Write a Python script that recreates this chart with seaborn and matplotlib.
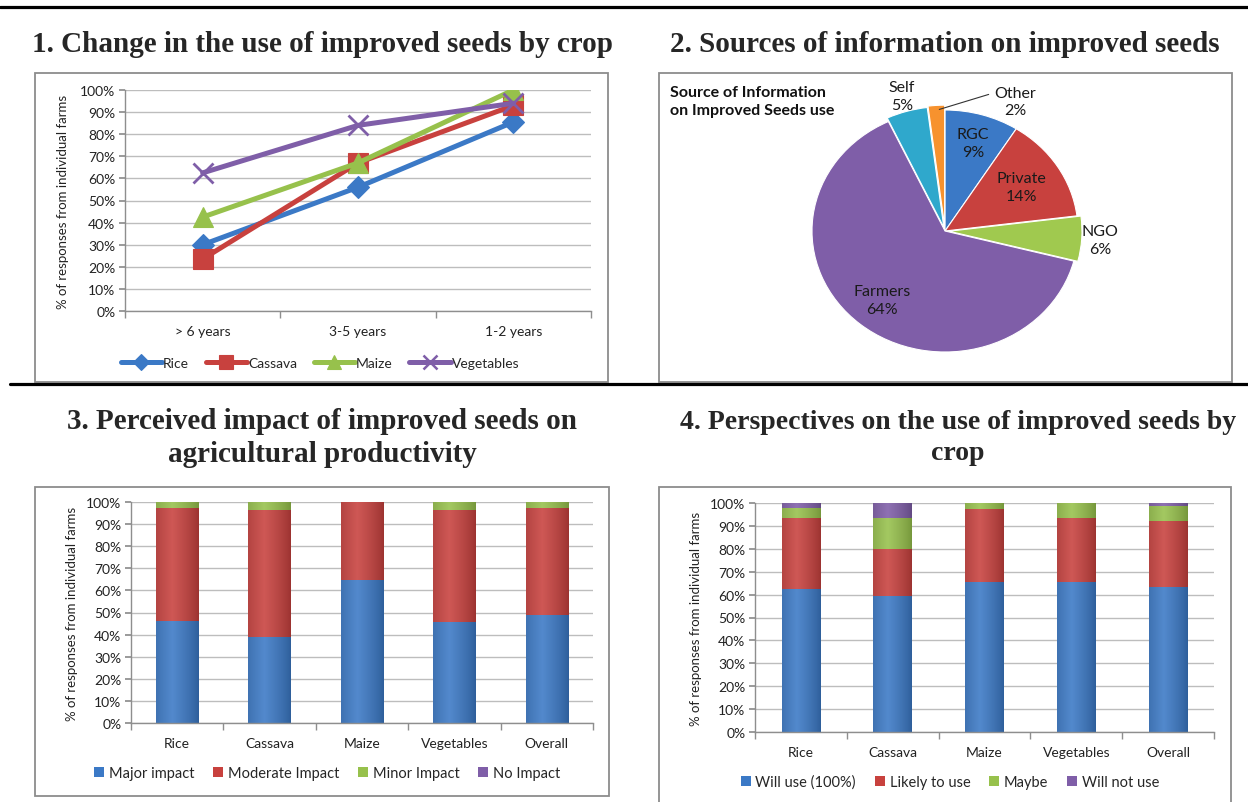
import numpy as np
import pandas as pd
import matplotlib
matplotlib.use("Agg")
import matplotlib.pyplot as plt
import seaborn as sns
from matplotlib.patches import Rectangle, Patch
from matplotlib.lines import Line2D
from matplotlib.colors import to_rgb

# ---------------- data ----------------
periods = ["> 6 years", "3-5 years", "1-2 years"]
rice_trend = [30, 56, 85.5]
cassava_trend = [23.5, 67, 93]
maize_trend = [42.5, 67, 100]
vegetables_trend = [62.5, 84, 94]

sources = ["RGC", "Private", "NGO", "Farmers", "Self", "Other"]
source_share = [9, 14, 6, 64, 5, 2]

crops = ["Rice", "Cassava", "Maize", "Vegetables", "Overall"]
impact_levels = ["Major impact", "Moderate Impact", "Minor Impact", "No Impact"]
major_impact = [46, 39, 64.5, 45.5, 49]
moderate_impact = [51.5, 57.5, 35.5, 51, 48.5]
minor_impact = [2.5, 3.5, 0, 3.5, 2.5]
no_impact = [0, 0, 0, 0, 0]

use_levels = ["Will use (100%)", "Likely to use", "Maybe", "Will not use"]
will_use = [62.5, 59.5, 65.5, 65.5, 63.5]
likely_use = [31, 20.5, 32, 28, 28.5]
maybe_use = [4.5, 13.5, 2.5, 6.5, 6.5]
will_not_use = [2, 6.5, 0, 0, 1.5]

# ---------------- style ----------------
sns.set_theme(style="white")
plt.rcParams["font.family"] = ["Lato", "DejaVu Sans"]

BLUE, RED, GREEN, PURPLE = "#3b79c6", "#c8413e", "#97c14c", "#7f5ea8"
CYAN, ORANGE = "#2fa8cc", "#f7922e"
GRID = "#bdbdbd"
SPINE = "#8e8e8e"
BOX = "#8c8c8c"

W, H = 1248, 803
fig = plt.figure(figsize=(W / 100, H / 100), dpi=100)


def px_axes(l, t, r, b):
    return fig.add_axes([l / W, 1 - b / H, (r - l) / W, (b - t) / H])


def box(l, t, r, b):
    fig.add_artist(Rectangle((l / W, 1 - b / H), (r - l) / W, (b - t) / H,
                             transform=fig.transFigure, fill=False,
                             edgecolor=BOX, linewidth=1.3))


def hline(y, x0, x1):
    fig.add_artist(Line2D([x0 / W, x1 / W], [1 - y / H, 1 - y / H],
                          transform=fig.transFigure, color="black", linewidth=2.3))


def title(x, y, text, size=21):
    fig.text(x / W, 1 - y / H, text, ha="center", va="center",
             family="Liberation Serif", weight="bold", fontsize=size,
             linespacing=1.32)


def pct_axis(ax, n_cats, ylab_x):
    ax.set_ylim(0, 100)
    ax.set_yticks(np.arange(0, 101, 10))
    ax.set_yticklabels([f"{v}%" for v in range(0, 101, 10)])
    ax.set_xlim(-0.5, n_cats - 0.5)
    ax.grid(axis="y", color=GRID, linewidth=1)
    ax.grid(axis="x", visible=False)
    ax.set_axisbelow(True)
    for s in ("top", "right"):
        ax.spines[s].set_visible(False)
    for s in ("left", "bottom"):
        ax.spines[s].set_color(SPINE)
        ax.spines[s].set_linewidth(1)
    ax.tick_params(axis="y", which="major", left=True, length=4, color=SPINE,
                   labelsize=10, pad=3, labelcolor="#222222")
    ax.tick_params(axis="x", which="major", bottom=False, labelsize=10,
                   pad=4, labelcolor="#222222")
    ax.set_xticks(np.arange(-0.5, n_cats, 1), minor=True)
    ax.tick_params(axis="x", which="minor", bottom=True, length=5,
                   color=SPINE, direction="out")
    ax.set_xlabel("")
    ax.set_ylabel("% of responses from individual farms", fontsize=9.5,
                  color="#222222")
    ax.yaxis.set_label_coords(ylab_x, 0.5)


# ---------------- frame lines, boxes, titles ----------------
hline(8, 0, W)
hline(385, 10, W)
box(35, 74, 608, 383)
box(659, 74, 1232, 383)
box(35, 488, 609, 797)
box(659, 488, 1231, 806)

title(322, 44, "1. Change in the use of improved seeds by crop")
title(945, 44, "2. Sources of information on improved seeds")
title(322, 438, "3. Perceived impact of improved seeds on\nagricultural productivity")
title(958, 438, "4. Perspectives on the use of improved seeds by\ncrop", size=20)

# ---------------- 1. line chart ----------------
ax1 = px_axes(125, 91, 591, 312)
trend = pd.DataFrame({
    "pos": np.tile(np.arange(len(periods)), 4),
    "value": rice_trend + cassava_trend + maize_trend + vegetables_trend,
    "crop": np.repeat(["Rice", "Cassava", "Maize", "Vegetables"], len(periods)),
})
line_cols = {"Rice": BLUE, "Cassava": RED, "Maize": GREEN, "Vegetables": PURPLE}
line_marks = {"Rice": "D", "Cassava": "s", "Maize": "^", "Vegetables": "x"}
mark_size = {"Rice": 11, "Cassava": 14, "Maize": 14, "Vegetables": 14}
for crop in ["Rice", "Cassava", "Maize", "Vegetables"]:
    sub = trend[trend["crop"] == crop]
    sns.lineplot(data=sub, x="pos", y="value", ax=ax1, color=line_cols[crop],
                 linewidth=3.6, marker=line_marks[crop],
                 markersize=mark_size[crop], markeredgecolor=line_cols[crop],
                 markeredgewidth=2.0 if crop == "Vegetables" else 0.8,
                 sort=False, legend=False, zorder=3)
pct_axis(ax1, len(periods), -0.12)
ax1.set_xticks(np.arange(len(periods)))
ax1.set_xticklabels(periods)
handles1 = [Line2D([0], [0], color=line_cols[c], linewidth=3.6,
                   marker=line_marks[c], markersize=mark_size[c] * 0.72,
                   markeredgecolor=line_cols[c],
                   markeredgewidth=1.8 if c == "Vegetables" else 0.8)
            for c in line_cols]
fig.legend(handles1, list(line_cols), loc="center", ncol=4, frameon=False,
           bbox_to_anchor=(320 / W, 1 - 364 / H), fontsize=10,
           handlelength=3.0, handletextpad=0.05, columnspacing=1.2)

# ---------------- 2. pie chart ----------------
cx, cy, rx, ry = 945, 232, 133, 121
pad = 1.12
ax2 = px_axes(cx - rx * pad, cy - ry * pad, cx + rx * pad, cy + ry * pad)
pie_cols = [BLUE, RED, "#a0c94f", PURPLE, CYAN, ORANGE]
explode = [0, 0, 0.03, 0, 0.03, 0.04]
wedges, _ = ax2.pie(source_share, colors=pie_cols, startangle=90,
                    counterclock=False, explode=explode,
                    wedgeprops=dict(edgecolor="white", linewidth=0.8))
ax2.set_aspect("auto")
ax2.set_xlim(-pad, pad)
ax2.set_ylim(-pad, pad)
ax2.axis("off")

label_r = {"RGC": 0.76, "Private": 0.68, "NGO": 1.17, "Farmers": 0.74, "Self": 1.16}
for w, name, share in zip(wedges, sources, source_share):
    mid = np.deg2rad((w.theta1 + w.theta2) / 2)
    txt = f"{name}\n{share}%"
    if name == "Other":
        ax2.annotate(txt, xy=(np.cos(mid) * 1.0, np.sin(mid) * 1.0),
                     xytext=(0.53, 1.07), ha="center", va="center",
                     fontsize=11.5, linespacing=1.35, color="#1a1a1a",
                     arrowprops=dict(arrowstyle="-", color="#333333",
                                     linewidth=0.8, relpos=(0.0, 0.78)),
                     annotation_clip=False)
    else:
        r = label_r[name]
        ax2.text(np.cos(mid) * r, np.sin(mid) * r, txt, ha="center",
                 va="center", fontsize=11.5, linespacing=1.35, color="#1a1a1a")
fig.text(670 / W, 1 - 102 / H, "Source of Information\non Improved Seeds use",
         ha="left", va="center", fontsize=11.5, weight="bold",
         linespacing=1.3, color="#111111")


# ---------------- stacked bar helpers ----------------
def shade(ax, patch, base):
    """Cylinder-like horizontal shading inside one bar segment."""
    x, y = patch.get_x(), patch.get_y()
    w, h = patch.get_width(), patch.get_height()
    if h <= 0:
        return
    t = np.linspace(0, 1, 64)
    wgt = np.clip(1 - np.abs(t - 0.38) / 0.62, 0, 1) ** 0.8
    c = np.array(to_rgb(base))
    dark = c * 0.78
    light = c + (1 - c) * 0.12
    row = dark[None, :] + (light - dark)[None, :] * wgt[:, None]
    img = ax.imshow(row[None, :, :], extent=[x, x + w, y, y + h],
                    aspect="auto", interpolation="bilinear", zorder=2.5)
    img.set_clip_path(patch)


def stacked(ax, layers, colors, width):
    bottom = np.zeros(len(crops))
    for vals, col in zip(layers, colors):
        n_before = len(ax.patches)
        sns.barplot(x=crops, y=vals, bottom=bottom, color=col, ax=ax,
                    width=width, saturation=1, edgecolor="none", zorder=2)
        for p in ax.patches[n_before:]:
            shade(ax, p, col)
        bottom = bottom + np.asarray(vals, dtype=float)


def bar_legend(labels, colors, x, y):
    handles = [Patch(facecolor=c, edgecolor="none") for c in colors]
    fig.legend(handles, labels, loc="center", ncol=4, frameon=False,
               bbox_to_anchor=(x / W, 1 - y / H), fontsize=10.5,
               handlelength=0.7, handleheight=0.7, handletextpad=0.3,
               columnspacing=1.3)


# ---------------- 3. perceived impact ----------------
ax3 = px_axes(131, 503, 593, 724)
stacked(ax3, [major_impact, moderate_impact, minor_impact, no_impact],
        [BLUE, RED, GREEN, PURPLE], 0.46)
pct_axis(ax3, len(crops), -0.115)
bar_legend(impact_levels, [BLUE, RED, GREEN, PURPLE], 327, 774)

# ---------------- 4. perspectives ----------------
ax4 = px_axes(755, 504, 1214, 733)
stacked(ax4, [will_use, likely_use, maybe_use, will_not_use],
        [BLUE, RED, GREEN, PURPLE], 0.42)
pct_axis(ax4, len(crops), -0.115)
bar_legend(use_levels, [BLUE, RED, GREEN, PURPLE], 950, 783)

fig.savefig("out.png", dpi=100)
